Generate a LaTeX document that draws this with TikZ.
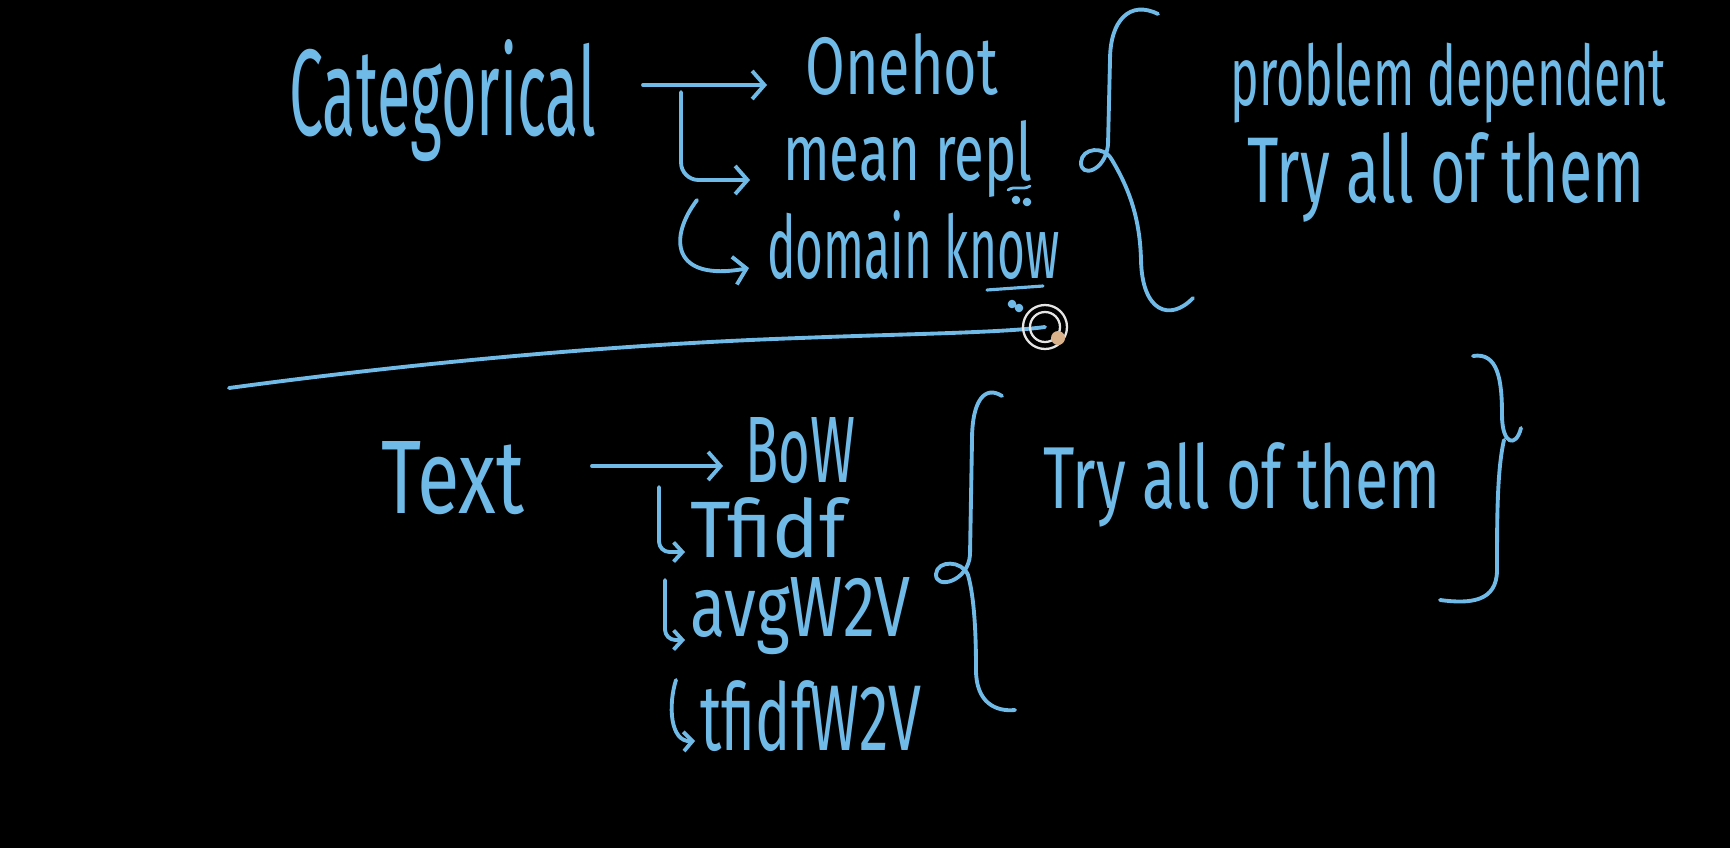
\documentclass[tikz,border=0pt]{standalone}
\usepackage{fontspec}
\setmainfont{Fira Sans}
\usetikzlibrary{arrows.meta}
\definecolor{ink}{RGB}{112,186,232}
\newcommand\hw[3]{\resizebox{#1}{#2}{#3}}
\begin{document}
\begin{tikzpicture}[x=0.02cm,y=-0.02cm,
  ink/.style={draw=ink, line width=2.2pt, line cap=round, line join=round},
  arr/.style={ink, -{Straight Barb[length=7pt,width=16pt]}},
  arrs/.style={ink, -{Straight Barb[length=5pt,width=11pt]}},
  lbl/.style={text=ink, inner sep=0pt, anchor=base west}]
\fill[black] (0,0) rectangle (1730,848);
\useasboundingbox (0,0) rectangle (1730,848);

% ---- upper group ----
\node[lbl] (cat)    at (289,135) {\hw{6.14cm}{1.92cm}{Categorical}};
\node[lbl] (onehot) at (805,94)  {\hw{3.86cm}{1.22cm}{Onehot}};
\node[lbl] (mean)   at (783,180) {\hw{4.98cm}{1.2cm}{mean repl}};
\node[lbl] (dom)    at (767,278) {\hw{5.84cm}{1.36cm}{domain know}};
\node[lbl] (prob)   at (1230,106) {\hw{8.72cm}{1.25cm}{problem dependent}};
\node[lbl] (try1)   at (1247,202) {\hw{7.94cm}{1.4cm}{Try all of them}};

\coordinate (a1s) at (643,85);
\draw[arr,shorten >=0.76cm] (a1s) -- (a1s -| onehot.west);
\coordinate (b1) at (681,92);
\draw[arr,rounded corners=10pt,shorten >=0.66cm] (b1) |- (mean.base west);
\coordinate (c2) at (697,200);
\draw[arr] (c2) .. controls (668,238) and (672,282) .. ([xshift=-0.36cm,yshift=0.2cm]dom.base west);

% small marks
\draw[ink,line width=1.6pt] (1008,190) .. controls (1015,185) and (1022,191) .. (1030,186);
\fill[ink] (1016,200) circle[radius=0.045cm] (1027,202) circle[radius=0.045cm];
\draw[ink,line width=1.8pt] (987,290) -- (1043,286);
\fill[ink] (1012,304) circle[radius=0.045cm] (1019,308) circle[radius=0.045cm];

% top brace
\draw[ink] (1158,14) .. controls (1130,0) and (1110,20) .. (1110,60)
  -- (1108,145)
  .. controls (1105,172) and (1080,178) .. (1081,162)
  .. controls (1082,148) and (1104,145) .. (1112,160)
  .. controls (1130,190) and (1140,220) .. (1141,260)
  .. controls (1142,312) and (1170,322) .. (1193,298);

% separator line and cursor
\coordinate (cur) at (1045,327);
\draw[ink] (229,388) .. controls (400,365) and (600,345) .. (800,338)
  .. controls (900,334) and (1000,333) .. (cur);
\draw[white!80!gray,line width=1.3pt] (cur) circle[radius=0.44cm];
\draw[white!80!gray,line width=1.3pt] (cur) circle[radius=0.30cm];
\fill[brown!60!white] (1058,338) circle[radius=0.14cm];

% ---- lower group ----
\node[lbl] (text)  at (381,513) {\hw{2.86cm}{1.44cm}{Text}};
\node[lbl] (bow)   at (745,482) {\hw{2.2cm}{1.3cm}{BoW}};
\node[lbl] (tfidf) at (690,557) {\hw{3.1cm}{1.2cm}{Tfidf}};
\node[lbl] (avg)   at (690,636) {\hw{4.4cm}{1.18cm}{avgW2V}};
\node[lbl] (tw)    at (700,750) {\hw{4.42cm}{1.4cm}{tfidfW2V}};
\node[lbl] (try2)  at (1043,508) {\hw{7.94cm}{1.32cm}{Try all of them}};

\coordinate (a2s) at (592,466);
\draw[arr,shorten >=0.44cm] (a2s) -- (a2s -| bow.west);
\coordinate (t1) at (659,487);
\draw[arrs,rounded corners=6pt,shorten >=0.1cm] (t1) |- ([yshift=0.1cm]tfidf.base west);
\coordinate (t2) at (665,580);
\draw[arrs,rounded corners=6pt,shorten >=0.1cm] (t2) |- ([yshift=-0.08cm]avg.base west);
\coordinate (t3) at (676,680);
\draw[arrs] (t3) .. controls (668,705) and (670,742) .. ([xshift=-0.1cm,yshift=0.18cm]tw.base west);

% lower left brace
\draw[ink] (1002,396) .. controls (985,385) and (972,400) .. (972,440)
  -- (970,555)
  .. controls (968,582) and (935,590) .. (936,574)
  .. controls (937,560) and (962,560) .. (968,575)
  .. controls (975,600) and (976,640) .. (976,670)
  .. controls (976,702) and (995,712) .. (1015,710);

% right brace
\draw[ink] (1473,356) .. controls (1498,352) and (1502,380) .. (1502,415)
  .. controls (1502,445) and (1516,448) .. (1521,428);
\draw[ink] (1504,440) .. controls (1497,470) and (1497,520) .. (1497,570)
  .. controls (1497,602) and (1470,604) .. (1440,600);
\end{tikzpicture}
\end{document}
